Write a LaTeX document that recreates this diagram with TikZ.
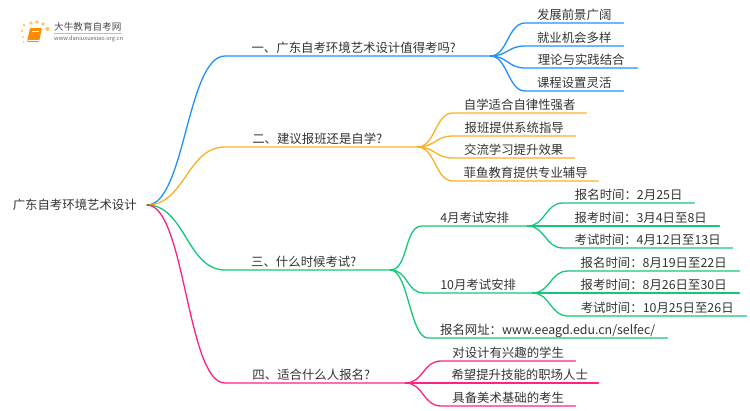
\documentclass[tikz,border=0pt]{standalone}
\usepackage{fontspec}
\setmainfont{Noto Sans CJK SC}
\definecolor{cblue}{HTML}{2090FF}
\definecolor{corange}{HTML}{FBB024}
\definecolor{cgreen}{HTML}{14C878}
\definecolor{cpink}{HTML}{FF2282}
\definecolor{ctext}{HTML}{333333}
\tikzset{
  topic/.style={inner sep=0pt,minimum height=18pt,text height=14pt,text depth=2pt,anchor=south west,
    font=\fontsize{12.4pt}{14pt}\selectfont,text=ctext,minimum width=#1},
  link/.style={line width=1.3pt,line cap=round},
}
\newcommand{\lnk}[4]{\draw[link,#1] (#2) .. controls +(#4,0) and +(-#4,0) .. (#3.south west) -- (#3.south east);}
\begin{document}
\begin{tikzpicture}[x=1pt,y=-1pt]
\useasboundingbox (0,0) rectangle (750,410);
% logo
\foreach \px/\py/\r in {24/25/1.5,31/23/1.8,37/22/1.9,43/24/1.9,47.5/29/2.1,22/31/1.3,23/37/1.1,23.5/42/.9}
  \fill[corange!70] (\px,\py) circle (\r);
\fill[orange!90!yellow,rounded corners=1pt] (30,28) -- (42,28) -- (39,42) -- (27,42) -- cycle;
\draw[white,line width=.5pt] (28,40.5) -- (38.5,40.5);
\draw[white,line width=.5pt] (32,31) -- (39,31);
\node[inner sep=0pt,anchor=west,text=black!70,font=\fontsize{9.6pt}{11pt}\selectfont] (logoa) at (54,27) {大牛教育自考网};
\draw[black!25,line width=.5pt] (54,33) -- (121,33);
\node[inner sep=0pt,anchor=west,text=black!60,font=\fontsize{5.7pt}{7pt}\selectfont] (logob) at (54,38.5) {www.daniuxuexiao.org.cn};
% root
\node[topic=133pt,anchor=east,minimum height=16pt,text height=11pt,text depth=2pt] (root) at (147,205) {\hspace*{-11pt}广东自考环境艺术设计};
% level 1
\node[topic=265pt] (a) at (225,56) {\hspace*{-8pt}一、广东自考环境艺术设计值得考吗?};
\node[topic=192pt] (b) at (225,147) {\hspace*{-8pt}二、建议报班还是自学?};
\node[topic=165pt] (c) at (225,270) {\hspace*{-8pt}三、什么时候考试?};
\node[topic=180pt] (d) at (225,383) {\hspace*{-8pt}四、适合什么人报名?};
% blue leaves
\node[topic=98pt] (a1) at (525,23) {发展前景广阔};
\node[topic=98pt] (a2) at (525,46) {就业机会多样};
\node[topic=112pt] (a3) at (525,68) {理论与实践结合};
\node[topic=98pt] (a4) at (525,91) {课程设置灵活};
% orange leaves
\node[topic=133pt] (b1) at (453,113) {自学适合自律性强者};
\node[topic=122pt] (b2) at (453,136) {报班提供系统指导};
\node[topic=121pt] (b3) at (453,158) {交流学习提升效果};
\node[topic=145pt] (b4) at (453,181) {菲鱼教育提供专业辅导};
% green
\node[topic=105pt] (c1) at (422,226) {4月考试安排};
\node[topic=108pt] (c2) at (424,293) {10月考试安排};
\node[topic=239pt] (c3) at (428,338) {报名网址：www.eeagd.edu.cn/selfec/};
\node[topic=131pt] (c11) at (563,203) {报名时间：2月25日};
\node[topic=157pt] (c12) at (562,226) {报考时间：3月4日至8日};
\node[topic=169pt] (c13) at (563,248) {考试时间：4月12日至13日};
\node[topic=171pt] (c21) at (568,271) {报名时间：8月19日至22日};
\node[topic=171pt] (c22) at (568,293) {报考时间：8月26日至30日};
\node[topic=178pt] (c23) at (568,316) {考试时间：10月25日至26日};
% pink
\node[topic=134pt] (d1) at (441,361) {对设计有兴趣的学生};
\node[topic=157pt] (d2) at (441,383) {希望提升技能的职场人士};
\node[topic=134pt] (d3) at (441,406) {具备美术基础的考生};
% connectors
\lnk{cblue}{root.east}{a}{38}
\lnk{corange}{root.east}{b}{38}
\lnk{cgreen}{root.east}{c}{38}
\lnk{cpink}{root.east}{d}{38}
\foreach \n in {a1,a2,a3,a4}{\lnk{cblue}{a.south east}{\n}{17}}
\foreach \n in {b1,b2,b3,b4}{\lnk{corange}{b.south east}{\n}{18}}
\foreach \n in {c1,c2,c3}{\lnk{cgreen}{c.south east}{\n}{18}}
\foreach \n in {c11,c12,c13}{\lnk{cgreen}{c1.south east}{\n}{18}}
\foreach \n in {c21,c22,c23}{\lnk{cgreen}{c2.south east}{\n}{18}}
\foreach \n in {d1,d2,d3}{\lnk{cpink}{d.south east}{\n}{18}}
\end{tikzpicture}
\end{document}
